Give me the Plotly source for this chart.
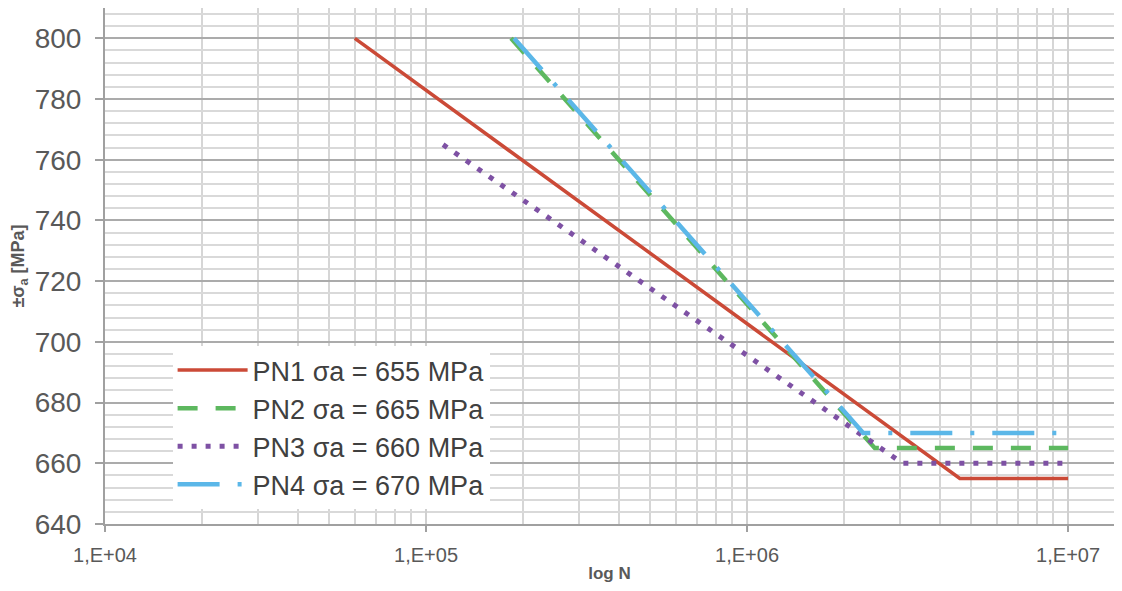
import plotly.graph_objects as go

# Data (N cycles, stress amplitude MPa)
pn1_n = [6.0e4, 4.6e6, 1.0e7]
pn1_s = [800, 655, 655]
pn2_n = [1.84e5, 2.5e6, 1.0e7]
pn2_s = [800, 665, 665]
pn3_n = [1.13e5, 3.05e6, 1.0e7]
pn3_s = [765, 660, 660]
pn4_n = [1.88e5, 2.3e6, 1.0e7]
pn4_s = [800, 670, 670]

names = ["PN1 σa = 655 MPa", "PN2 σa = 665 MPa", "PN3 σa = 660 MPa", "PN4 σa = 670 MPa"]
x_tickvals = [1e4, 1e5, 1e6, 1e7]
x_ticktext = ["1,E+04", "1,E+05", "1,E+06", "1,E+07"]

series = [
    (pn1_n, pn1_s, "#CB4A37", 3.5, "solid"),
    (pn2_n, pn2_s, "#5DB85F", 4.5, "20px,18px"),
    (pn3_n, pn3_s, "#7E51A4", 5, "5px,9px"),
    (pn4_n, pn4_s, "#5BB7E8", 4.5, "42px,18px,4px,18px"),
]

fig = go.Figure()
for i, (xs, ys, col, w, dash) in enumerate(series):
    fig.add_trace(go.Scatter(
        x=xs, y=ys, mode="lines", name=names[i], legendgroup=f"g{i}",
        line=dict(color=col, width=w, dash=dash),
    ))

# page body adds an 8px margin; size the figure so it fits the window without scrollbars
fig.update_layout(
    width=1106, height=575,
    margin=dict(l=97, r=0, t=0, b=59),
    paper_bgcolor="white", plot_bgcolor="white",
    font=dict(family="Liberation Sans, Arial, sans-serif", color="#595959"),
    showlegend=True,
    legend=dict(
        x=0.067, y=0.345, xanchor="left", yanchor="top",
        bgcolor="white", borderwidth=0,
        font=dict(size=27, color="#404040"),
        tracegroupgap=0, traceorder="grouped",
        itemwidth=70,
    ),
)

fig.update_xaxes(
    type="log", range=[4, 7.143], automargin=False,
    tickvals=x_tickvals, ticktext=x_ticktext,
    tickfont=dict(size=20, color="#595959"),
    ticks="outside", ticklen=6, tickcolor="#A0A0A0", tickwidth=2,
    ticklabelstandoff=6,
    showline=True, linecolor="#A0A0A0", linewidth=2,
    showgrid=True, gridcolor="#D0D0D0", gridwidth=2,
    minor=dict(dtick="D1", showgrid=True, gridcolor="#D6D6D6", gridwidth=2, ticks=""),
    title=dict(text="<b>log N</b>", font=dict(size=17, color="#595959"), standoff=11),
    zeroline=False,
)
fig.update_yaxes(
    range=[640, 810], dtick=20, tick0=640, automargin=False,
    tickfont=dict(size=28, color="#595959"),
    ticks="outside", ticklen=8, tickcolor="#A0A0A0", tickwidth=2,
    ticklabelstandoff=8,
    showline=True, linecolor="#A0A0A0", linewidth=2,
    showgrid=True, gridcolor="#ABABAB", gridwidth=2,
    minor=dict(dtick=4, showgrid=True, gridcolor="#D9D9D9", gridwidth=2, ticks=""),
    title=dict(text="<b>±σ<sub>a</sub> [MPa]</b>", font=dict(size=18, color="#595959"), standoff=12),
    zeroline=False,
)

fig.write_html("out.html")
